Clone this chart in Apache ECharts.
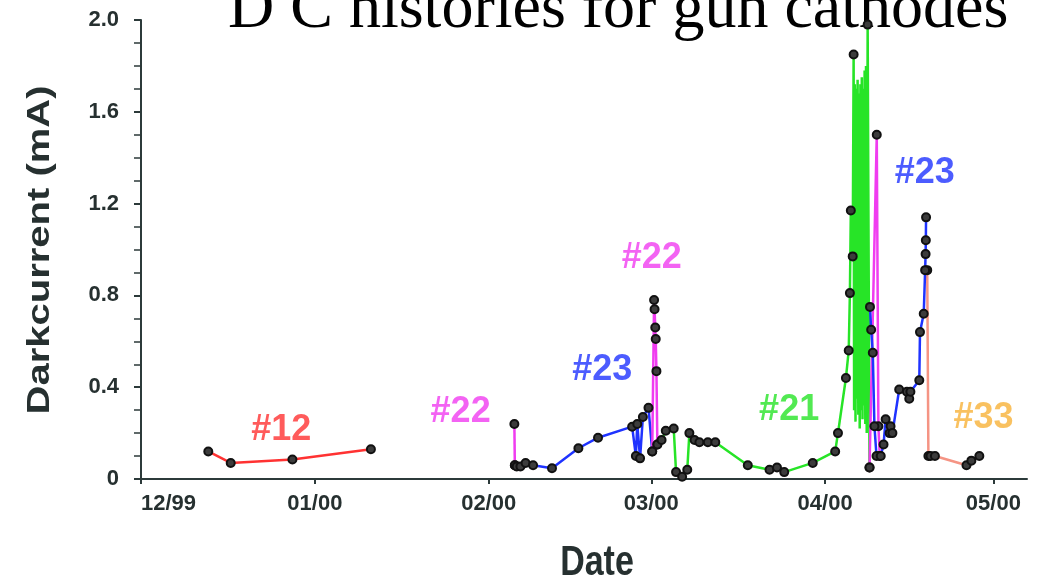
<!DOCTYPE html>
<html>
<head>
<meta charset="utf-8">
<script src="https://cdn.jsdelivr.net/npm/echarts@6/dist/echarts.min.js"></script>
<style>
  html, body { margin: 0; padding: 0; background: #fff; }
  #chart { width: 1045px; height: 586px; }
</style>
</head>
<body>
<div id="chart"></div>
<script>
// Dark current history of the gun cathodes, Dec 1999 - Apr 2000 (values in mA)

const cathode12 = [
  ['1999-12-13 00:00', 0.12], ['1999-12-17 00:00', 0.07], ['1999-12-28 00:00', 0.085], ['2000-01-11 00:00', 0.13]
];

const cathode22a = [
  ['2000-02-05 14:00', 0.24], ['2000-02-05 16:00', 0.06]
];

const cathode23a = [
  ['2000-02-05 16:00', 0.06], ['2000-02-06 00:00', 0.055], ['2000-02-06 16:00', 0.055], ['2000-02-07 14:00', 0.07],
  ['2000-02-08 22:00', 0.06], ['2000-02-12 07:00', 0.047], ['2000-02-17 00:00', 0.134], ['2000-02-20 12:00', 0.18],
  ['2000-02-26 14:00', 0.228], ['2000-02-27 06:00', 0.10], ['2000-02-27 12:00', 0.24], ['2000-02-28 00:00', 0.09],
  ['2000-02-28 12:00', 0.27], ['2000-02-29 12:00', 0.31], ['2000-03-01 04:00', 0.12]
];

const cathode22b = [
  ['2000-03-01 04:00', 0.12], ['2000-03-01 12:00', 0.78], ['2000-03-01 14:00', 0.74], ['2000-03-01 17:00', 0.66],
  ['2000-03-01 19:00', 0.61], ['2000-03-01 22:00', 0.47], ['2000-03-02 02:00', 0.15]
];

const cathode21a = [
  ['2000-03-02 02:00', 0.15], ['2000-03-02 20:00', 0.17], ['2000-03-03 14:00', 0.21], ['2000-03-05 00:00', 0.22],
  ['2000-03-05 10:00', 0.03], ['2000-03-06 12:00', 0.01], ['2000-03-07 10:00', 0.04], ['2000-03-07 19:00', 0.20],
  ['2000-03-08 17:00', 0.17], ['2000-03-09 14:00', 0.16], ['2000-03-11 02:00', 0.16], ['2000-03-12 10:00', 0.16],
  ['2000-03-18 05:00', 0.06], ['2000-03-22 02:00', 0.04], ['2000-03-23 10:00', 0.05], ['2000-03-24 17:00', 0.03],
  ['2000-03-29 19:00', 0.07], ['2000-04-02 19:00', 0.12], ['2000-04-03 07:00', 0.20], ['2000-04-04 17:00', 0.44],
  ['2000-04-05 05:00', 0.56], ['2000-04-05 10:00', 0.81], ['2000-04-05 14:00', 1.17], ['2000-04-05 22:00', 0.97],
  ['2000-04-06 02:00', 1.85]
];

// rapid unrecorded swings between the two April peaks (line only, no markers)
const cathode21burst = [
  ['2000-04-06 04:00', 0.30], ['2000-04-06 07:00', 1.72], ['2000-04-06 10:00', 0.25], ['2000-04-06 13:00', 1.70],
  ['2000-04-06 16:00', 0.35], ['2000-04-06 19:00', 1.74], ['2000-04-06 22:00', 0.28], ['2000-04-07 01:00', 1.68],
  ['2000-04-07 04:00', 0.22], ['2000-04-07 07:00', 1.72], ['2000-04-07 10:00', 0.30], ['2000-04-07 13:00', 1.75],
  ['2000-04-07 16:00', 0.26], ['2000-04-07 19:00', 1.70], ['2000-04-07 22:00', 0.32], ['2000-04-08 01:00', 1.78],
  ['2000-04-08 04:00', 0.24], ['2000-04-08 07:00', 1.80], ['2000-04-08 10:00', 0.20]
];

const cathode21b = [
  ['2000-04-08 14:00', 1.98], ['2000-04-08 22:00', 0.05]
];

const cathode22c = [
  ['2000-04-08 22:00', 0.05], ['2000-04-10 05:00', 1.50], ['2000-04-10 12:00', 0.23], ['2000-04-10 18:00', 0.10]
];

const cathode23b = [
  ['2000-04-09 00:00', 0.75], ['2000-04-09 05:00', 0.65], ['2000-04-09 12:00', 0.55], ['2000-04-09 19:00', 0.23],
  ['2000-04-10 04:00', 0.10], ['2000-04-10 22:00', 0.10], ['2000-04-11 10:00', 0.15], ['2000-04-11 19:00', 0.26],
  ['2000-04-12 12:00', 0.20], ['2000-04-12 16:00', 0.23], ['2000-04-13 00:00', 0.20], ['2000-04-14 05:00', 0.39],
  ['2000-04-15 14:00', 0.38], ['2000-04-16 00:00', 0.35], ['2000-04-16 05:00', 0.38], ['2000-04-17 19:00', 0.43],
  ['2000-04-17 22:00', 0.64], ['2000-04-18 14:00', 0.72], ['2000-04-18 20:00', 0.91], ['2000-04-18 22:00', 0.98],
  ['2000-04-18 23:00', 1.04], ['2000-04-19 00:00', 1.14]
];

const cathode33 = [
  ['2000-04-19 05:00', 0.91], ['2000-04-19 10:00', 0.10], ['2000-04-19 19:00', 0.10], ['2000-04-20 14:00', 0.10],
  ['2000-04-26 05:00', 0.06], ['2000-04-27 02:00', 0.08], ['2000-04-28 12:00', 0.10]
];

// cathode tags written next to their traces
const tagNames  = ['#12', '#22', '#23', '#22', '#21', '#23', '#33'];
const tagDates  = ['1999-12-26 00:00', '2000-01-27 00:00', '2000-02-21 06:00', '2000-03-01 02:00',
                   '2000-03-25 14:00', '2000-04-18 18:00', '2000-04-29 06:00'];
const tagValues = [0.213, 0.292, 0.475, 0.963, 0.30, 1.335, 0.266];

const yTicks = [0, 0.4, 0.8, 1.2, 1.6, 2.0];

const COLORS = {
  c12: '#ff3232',
  c22: '#f03cf0',
  c23: '#1f33ff',
  c21: '#27e427',
  c33: '#f59484',
  tag33: '#f7b238',
  axis: '#2c3a3a',
  text: '#263030'
};

const SANS = '"Liberation Sans", Arial, sans-serif';

function traceSeries(name, color, data) {
  return {
    name: name,
    type: 'line',
    data: data,
    showAllSymbol: true,
    symbol: 'circle',
    symbolSize: 8,
    lineStyle: { color: color, width: 2.5 },
    itemStyle: { color: '#3c3c3c', borderColor: '#111', borderWidth: 2 },
    emphasis: { disabled: true },
    z: 2
  };
}

const tagColors = [COLORS.c12, COLORS.c22, COLORS.c23, COLORS.c22, COLORS.c21, COLORS.c23, COLORS.tag33];

const greenData = cathode21a
  .concat(cathode21burst.map(p => ({ value: p, symbol: 'none' })))
  .concat(cathode21b);

function pad2(n) { return (n < 10 ? '0' : '') + n; }

const chart = echarts.init(document.getElementById('chart'), null, { renderer: 'canvas' });

chart.setOption({
  animation: false,
  backgroundColor: '#ffffff',
  grid: { left: 141, right: 18, top: 20, bottom: 107, containLabel: false },
  xAxis: {
    type: 'time',
    min: '1999-12-01 00:00',
    max: '2000-05-07 00:00',
    minInterval: 28 * 86400000,
    maxInterval: 31 * 86400000,
    axisLine: { show: true, lineStyle: { color: COLORS.axis, width: 2 } },
    axisTick: { show: true, length: 5, lineStyle: { color: COLORS.axis, width: 2 } },
    splitLine: { show: false },
    axisLabel: {
      color: COLORS.text,
      fontFamily: SANS,
      fontWeight: 'bold',
      fontSize: 22,
      margin: 14,
      showMinLabel: true,
      alignMinLabel: 'left',
      formatter: function (v) {
        const d = new Date(v);
        return pad2(d.getMonth() + 1) + '/' + pad2(d.getFullYear() % 100);
      }
    }
  },
  yAxis: {
    type: 'value',
    min: yTicks[0],
    max: yTicks[yTicks.length - 1],
    interval: yTicks[1] - yTicks[0],
    axisLine: { show: true, lineStyle: { color: COLORS.axis, width: 2 } },
    axisTick: { show: true, length: 7, lineStyle: { color: COLORS.axis, width: 2 } },
    minorTick: { show: true, splitNumber: 4, length: 7, lineStyle: { color: COLORS.axis, width: 1.5 } },
    splitLine: { show: false },
    axisLabel: {
      color: COLORS.text,
      fontFamily: SANS,
      fontWeight: 'bold',
      fontSize: 22,
      margin: 22,
      formatter: function (v) { return v === 0 ? '0' : v.toFixed(1); }
    }
  },
  series: [
    traceSeries('#12', COLORS.c12, cathode12),
    traceSeries('#22', COLORS.c22, cathode22a),
    traceSeries('#23', COLORS.c23, cathode23a),
    traceSeries('#22', COLORS.c22, cathode22b),
    traceSeries('#21', COLORS.c21, greenData),
    traceSeries('#22', COLORS.c22, cathode22c),
    traceSeries('#33', COLORS.c33, cathode33),
    traceSeries('#23', COLORS.c23, cathode23b),
    {
      name: 'tags',
      type: 'scatter',
      silent: true,
      symbolSize: 1,
      itemStyle: { color: 'rgba(0,0,0,0)' },
      data: tagNames.map((n, i) => ({
        name: n,
        value: [tagDates[i], tagValues[i]],
        label: { color: tagColors[i] }
      })),
      label: {
        show: true,
        position: 'inside',
        formatter: '{b}',
        fontFamily: SANS,
        fontWeight: 'bold',
        fontSize: 36
      },
      z: 3
    }
  ],
  graphic: [
    {
      type: 'text',
      x: 228,
      y: 10,
      silent: true,
      style: {
        text: 'D C histories for gun cathodes',
        font: '64px "Liberation Serif", "Times New Roman", serif',
        fill: '#000',
        align: 'left',
        verticalAlign: 'middle'
      }
    },
    {
      type: 'text',
      x: 40,
      y: 250,
      rotation: Math.PI / 2,
      scaleX: 1.25,
      silent: true,
      style: {
        text: 'Darkcurrent (mA)',
        font: 'bold 32px "Liberation Sans", Arial, sans-serif',
        fill: COLORS.text,
        align: 'center',
        verticalAlign: 'middle'
      }
    },
    {
      type: 'text',
      x: 597,
      y: 563,
      scaleY: 1.25,
      silent: true,
      style: {
        text: 'Date',
        font: 'bold 34px "Liberation Sans", Arial, sans-serif',
        fill: COLORS.text,
        align: 'center',
        verticalAlign: 'middle'
      }
    }
  ]
});
</script>
</body>
</html>
